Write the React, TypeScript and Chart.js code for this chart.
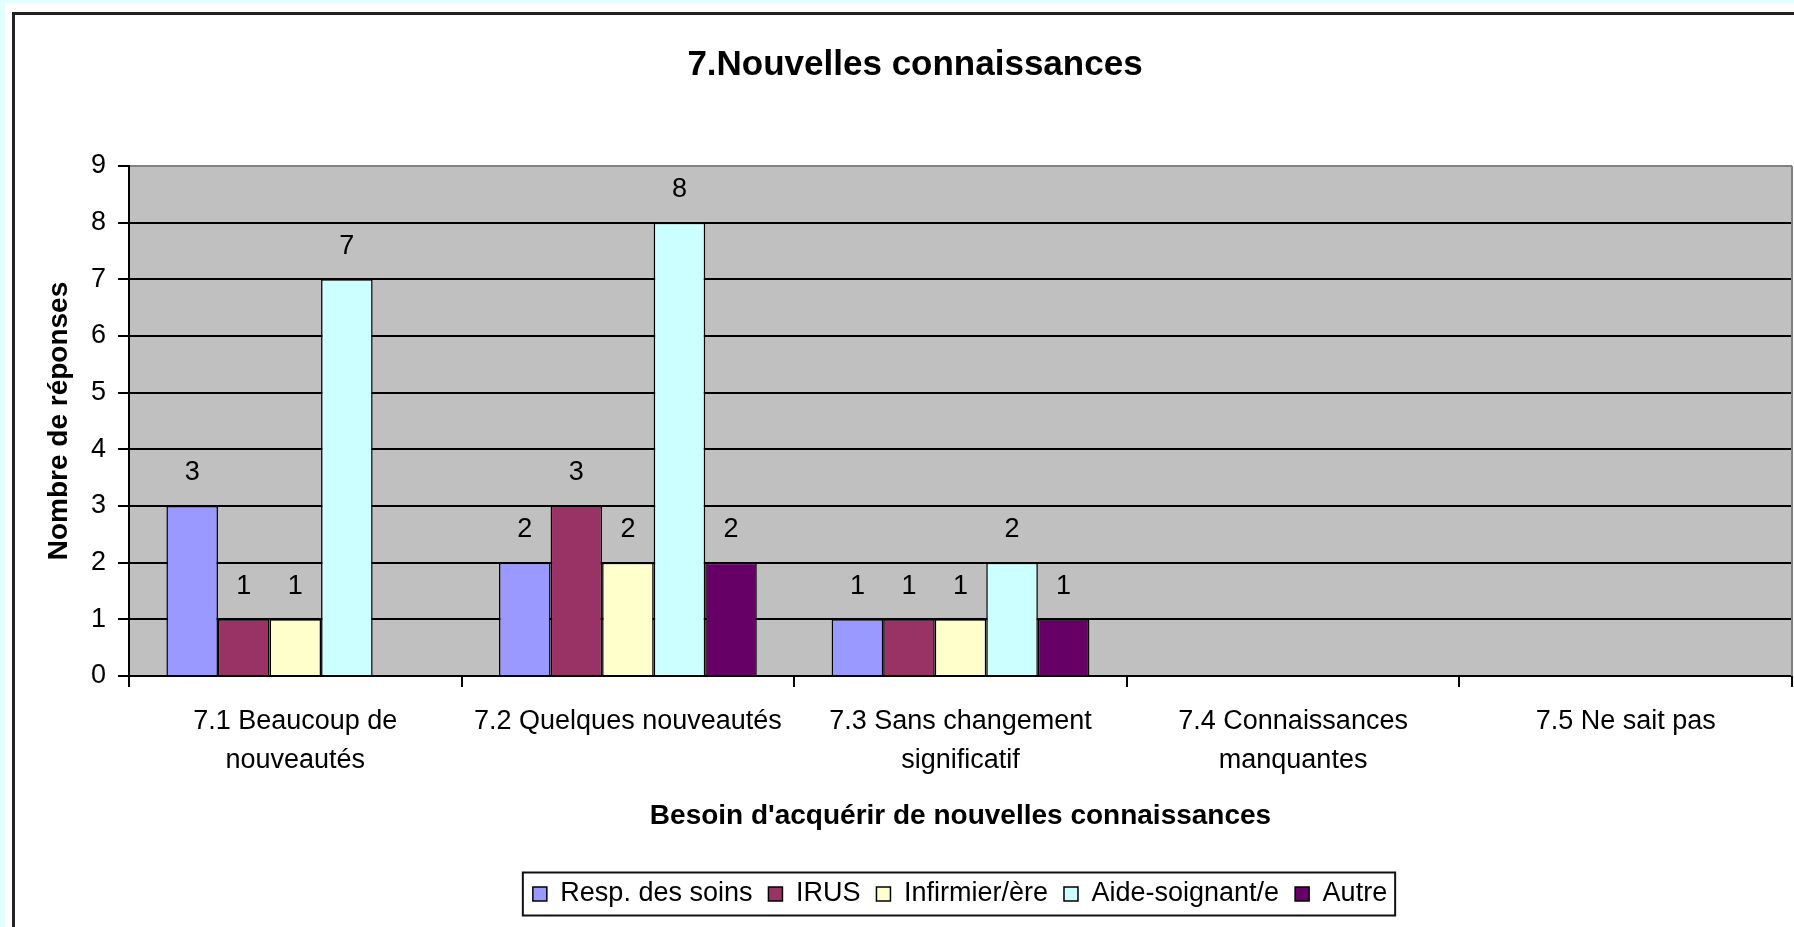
import React, { useEffect, useRef } from "react";
import { Chart, registerables } from "chart.js";

Chart.register(...registerables);

// ---- Data ----
const categories: string[][] = [
  ["7.1 Beaucoup de", "nouveautés"],
  ["7.2 Quelques nouveautés"],
  ["7.3 Sans changement", "significatif"],
  ["7.4 Connaissances", "manquantes"],
  ["7.5 Ne sait pas"],
];
const respSoins = [3, 2, 1, null, null];
const irus = [1, 3, 1, null, null];
const infirmier = [1, 2, 1, null, null];
const aideSoignant = [7, 8, 2, null, null];
const autre = [null, 2, 1, null, null];

const seriesNames = ["Resp. des soins", "IRUS", "Infirmier/ère", "Aide-soignant/e", "Autre"];
const seriesValues = [respSoins, irus, infirmier, aideSoignant, autre];
const seriesColors = ["#9999FF", "#993366", "#FFFFCC", "#CCFFFF", "#660066"];

const titleText = "7.Nouvelles connaissances";
const xTitle = "Besoin d'acquérir de nouvelles connaissances";
const yTitle = "Nombre de réponses";
const yMin = 0;
const yMax = 9;

const FONT = '"Liberation Sans", Arial, Helvetica, sans-serif';

const plotPlugin = {
  id: "plotDecor",
  afterLayout(chart: any) {
    if (chart.legend) {
      chart.legend.left += 45;
      chart.legend.right += 45;
    }
  },
  beforeDraw(chart: any) {
    const { ctx, chartArea } = chart;
    ctx.save();
    ctx.fillStyle = "#C0C0C0";
    ctx.fillRect(chartArea.left, chartArea.top, chartArea.right - chartArea.left, chartArea.bottom - chartArea.top);
    ctx.restore();
  },
  beforeDatasetsDraw(chart: any) {
    const { ctx, chartArea } = chart;
    ctx.save();
    ctx.strokeStyle = "#808080";
    ctx.lineWidth = 2;
    ctx.beginPath();
    ctx.moveTo(chartArea.right, chartArea.top);
    ctx.lineTo(chartArea.right, chartArea.bottom);
    ctx.stroke();
    ctx.restore();
  },
  afterDatasetsDraw(chart: any) {
    const { ctx } = chart;
    ctx.save();
    ctx.font = `27px ${FONT}`;
    ctx.fillStyle = "#000";
    ctx.textAlign = "center";
    ctx.textBaseline = "middle";
    chart.data.datasets.forEach((ds: any, i: number) => {
      const meta = chart.getDatasetMeta(i);
      meta.data.forEach((el: any, j: number) => {
        const v = ds.data[j];
        if (v === null || v === undefined) return;
        ctx.fillText(String(v), el.x, el.y - 33);
      });
    });
    ctx.restore();
  },
  afterDraw(chart: any) {
    const lg = chart.legend;
    if (!lg || !lg.legendHitBoxes || !lg.legendHitBoxes.length) return;
    const hb = lg.legendHitBoxes;
    const l = Math.min(...hb.map((h: any) => h.left)) - 10;
    const r = Math.max(...hb.map((h: any) => h.left + h.width)) + 8;
    const t = hb[0].top - 8;
    const b = hb[0].top + hb[0].height + 8;
    const { ctx } = chart;
    ctx.save();
    ctx.strokeStyle = "#111";
    ctx.lineWidth = 2;
    ctx.strokeRect(l, t, r - l, b - t);
    ctx.restore();
  },
};

export default function App() {
  const canvasRef = useRef<HTMLCanvasElement | null>(null);

  useEffect(() => {
    if (!canvasRef.current) return;
    const chart = new Chart(canvasRef.current, {
      type: "bar",
      data: {
        labels: categories,
        datasets: seriesNames.map((name, i) => ({
          label: name,
          data: seriesValues[i],
          backgroundColor: seriesColors[i],
          borderColor: "#000",
          borderWidth: 1.5,
          categoryPercentage: 0.775,
          barPercentage: 1,
        })),
      },
      options: {
        responsive: false,
        maintainAspectRatio: false,
        animation: false,
        events: [],
        layout: { padding: { left: 38, right: 2, top: 0, bottom: 9.5 } },
        plugins: {
          title: {
            display: true,
            text: titleText,
            color: "#000",
            font: { family: FONT, size: 35, weight: "bold", lineHeight: 1.2 },
            padding: { top: 44, bottom: 80 },
          },
          legend: {
            display: true,
            position: "bottom",
            labels: {
              color: "#000",
              font: { family: FONT, size: 27 },
              boxWidth: 14,
              boxHeight: 14,
              padding: 16,
            },
          },
          tooltip: { enabled: false },
        },
        scales: {
          x: {
            offset: true,
            grid: {
              offset: true,
              drawOnChartArea: false,
              drawTicks: true,
              tickLength: 11,
              color: "#000",
              lineWidth: 2,
            },
            border: { display: true, color: "#000", width: 2 },
            ticks: {
              color: "#000",
              font: { family: FONT, size: 27, lineHeight: 1.44 },
              padding: 15,
              maxRotation: 0,
              minRotation: 0,
              autoSkip: false,
            },
            title: {
              display: true,
              text: xTitle,
              color: "#000",
              font: { family: FONT, size: 28, weight: "bold", lineHeight: 1.2 },
              padding: { top: 0, bottom: 31.7 },
            },
            afterFit(scale: any) {
              scale.height = 188.5;
            },
          },
          y: {
            min: yMin,
            max: yMax,
            ticks: {
              stepSize: 1,
              color: "#000",
              font: { family: FONT, size: 27 },
              padding: 12,
            },
            grid: {
              color: (c: any) => (c.tick && c.tick.value === yMax ? "#808080" : "#000"),
              tickColor: "#000",
              lineWidth: 2,
              drawTicks: true,
              tickLength: 11,
            },
            border: { display: true, color: "#000", width: 2 },
            title: {
              display: true,
              text: yTitle,
              color: "#000",
              font: { family: FONT, size: 28, weight: "bold", lineHeight: 1.2 },
              padding: { top: 4, bottom: 0 },
            },
            afterFit(scale: any) {
              scale.width = 91;
            },
          },
        },
      },
      plugins: [plotPlugin],
    } as any);
    return () => chart.destroy();
  }, []);

  return (
    <div style={{ position: "absolute", left: 0, top: 0, width: 1794, height: 927, overflow: "hidden", background: "#E2FFFF" }}>
      <div style={{ position: "absolute", left: 5, top: 3, right: -20, bottom: -20, background: "#FFFFFF" }} />
      <div
        style={{
          position: "absolute",
          left: 12,
          top: 12,
          right: -20,
          bottom: -20,
          borderLeft: "3px solid #222",
          borderTop: "3px solid #222",
        }}
      />
      <canvas ref={canvasRef} width={1794} height={927} style={{ position: "absolute", left: 0, top: 0, display: "block" }} />
    </div>
  );
}
